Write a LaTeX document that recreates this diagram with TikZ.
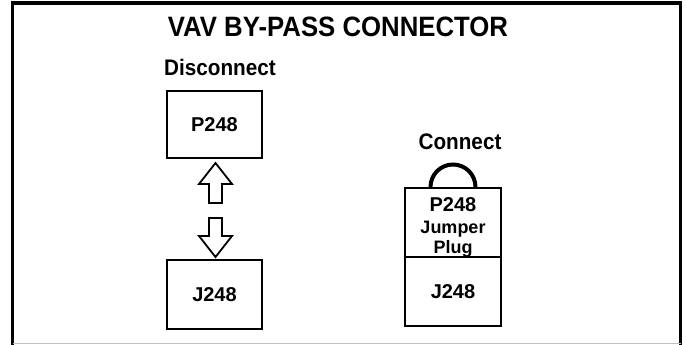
\documentclass[tikz,border=0pt]{standalone}
\usepackage{fontspec}
\setmainfont{Liberation Sans}
\newfontfamily\narrowsf[FakeStretch=0.92]{Liberation Sans}
\usetikzlibrary{calc,positioning}

\begin{document}
\begin{tikzpicture}[
  x=1pt, y=-1pt,
  font=\bfseries,
  title/.style={font=\narrowsf\fontsize{28}{30}\bfseries\selectfont, inner sep=0pt},
  label/.style={font=\narrowsf\fontsize{22.5}{24}\bfseries\selectfont, inner sep=0pt},
  conn/.style={draw=black, line width=2pt, minimum width=95pt, minimum height=68pt,
               inner sep=0pt, align=center, font=\fontsize{20}{22}\bfseries\selectfont},
  hollow/.style={draw=black, line width=1.8pt, fill=white, line join=miter},
  jumper/.style={line width=4pt},
]
\useasboundingbox (0,0) rectangle (686,345);

% ---- frame ----
\draw[line width=3.5pt] (12.5,345) -- (12.5,3) -- (680.5,3) -- (680.5,345);
\draw[black!25, line width=1pt] (12.5,343.5) -- (680.5,343.5);

% ---- headings ----
\node[title] (head) at (338,27) {VAV BY-PASS CONNECTOR};
\node[label, anchor=west] (disc) at (164,67) {Disconnect};
\node[label] (cont) at (460,142) {Connect};

% ---- disconnected pair ----
\node[conn, minimum height=67pt] (plug) at (214.5,124.5) {P248};
\node[conn, minimum height=69pt, below=100pt of plug] (jack) {J248};

\coordinate (upt) at ($(plug.south)+(1,4)$);
\coordinate (dnt) at ($(jack.north)+(1,-2)$);
\draw[hollow] (upt) -- ++(16.5,21) -- ++(-10,0) -- ++(0,19) -- ++(-13,0)
  -- ++(0,-19) -- ++(-10,0) -- cycle;
\draw[hollow] (dnt) -- ++(16.5,-21) -- ++(-10,0) -- ++(0,-18) -- ++(-13,0)
  -- ++(0,18) -- ++(-10,0) -- cycle;

% ---- connected pair ----
\node[conn, minimum width=96pt, minimum height=69pt] (jplug) at (453,222.5) {};
\node[conn, minimum width=96pt, minimum height=69pt, below=-2pt of jplug] (jjack) {J248};
\node[align=center, inner sep=0pt, font=\fontsize{18}{20}\bfseries\selectfont] (jtext)
  at ($(jplug.center)+(0,4.5)$)
  {{\fontsize{20}{20}\selectfont P248}\\[2pt]Jumper\\Plug};

\draw[jumper] ($(jplug.north)+(-22.5,0)$) arc[start angle=180, end angle=360, radius=22.5];

\end{tikzpicture}
\end{document}
